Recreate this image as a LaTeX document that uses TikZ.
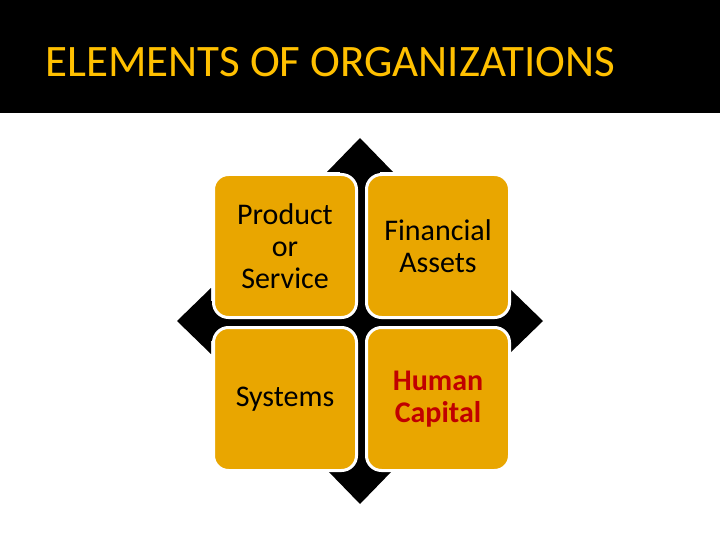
\documentclass[tikz,border=0pt]{standalone}
\usepackage{fontspec}
\setmainfont{Carlito}
\usetikzlibrary{positioning, calc}
\definecolor{gold}{RGB}{233,166,0}
\definecolor{titleyellow}{RGB}{255,192,0}
\definecolor{darkred}{RGB}{192,0,0}
\tikzset{
  cell/.style={draw=white, line width=3pt, fill=gold, rounded corners=15pt,
    minimum width=143pt, minimum height=143pt, inner sep=0pt, align=center,
    font=\fontsize{30}{32}\selectfont},
}

\begin{document}
\begin{tikzpicture}[x=1pt,y=-1pt]
  \useasboundingbox (0,0) rectangle (720,540);
  \fill[black] (0,0) rectangle (720,113); %title band
  \node[anchor=base west, text=titleyellow, inner sep=0pt, font=\fontsize{45}{54}\selectfont] (title) at (45,77) {ELEMENTS OF ORGANIZATIONS};
  \coordinate (C) at (360,321);
  % cross arrows
  \fill[black] ($(C)+(-20,-150)$) rectangle ($(C)+(20,150)$);
  \fill[black] ($(C)+(-150,-20)$) rectangle ($(C)+(150,20)$);
  \foreach \a in {0,90,180,270}
    \fill[black,rotate around={\a:(C)}] ($(C)+(0,-183)$) -- ++(33,34) -- ++(-66,0) -- cycle;
  \node[cell] (prod) at (285,246) {Product\\or\\Service};
  \node[cell, right=7pt of prod] (fin) {Financial\\Assets};
  \node[cell, below=7pt of prod] (sys) {Systems};
  \node[cell, right=7pt of sys, text=darkred, font=\fontsize{30}{32}\selectfont\bfseries] (human) {Human\\Capital};
\end{tikzpicture}
\end{document}
